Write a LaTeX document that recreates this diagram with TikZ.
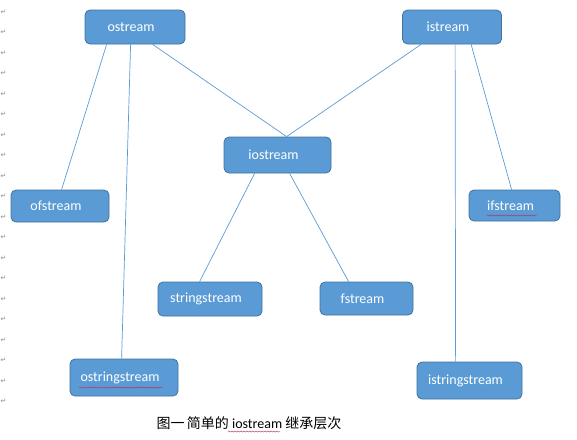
\documentclass[tikz,border=0pt]{standalone}
\usepackage{fontspec}
\setmainfont{Carlito}
\newfontfamily\cjkfont{Noto Sans CJK SC}
\newfontfamily\symfont{DejaVu Sans}
\usetikzlibrary{decorations.pathmorphing,calc}
\definecolor{boxfill}{HTML}{5B9BD5}
\definecolor{boxline}{HTML}{41719C}
\definecolor{linkcol}{HTML}{5B9BD5}
\definecolor{markgrey}{HTML}{8A8A8A}
\definecolor{squig}{HTML}{B5305A}
\newcommand{\boxtxt}[1]{\raisebox{-2pt}{#1\hspace*{8pt}}}
\tikzset{
  cls/.style={draw=boxline, line width=0.8pt, fill=boxfill, rounded corners=5pt,
    text=white, font=\fontsize{14}{16}\selectfont, inner sep=0pt, anchor=center},
  link/.style={draw=linkcol, line width=0.7pt},
  pmark/.style={text=markgrey, font=\symfont\fontsize{7}{8}\selectfont, inner sep=0pt},
  wavy/.style={draw=squig, line width=0.4pt, decorate,
    decoration={snake, amplitude=0.6pt, segment length=3pt}}
}
\begin{document}
\begin{tikzpicture}[x=1pt,y=-1pt]
\useasboundingbox (0,0) rectangle (577,439);
% paragraph marks in the margin
\foreach \i in {0,...,19} {
  \node[pmark] (pm\i) at (3.5,{12+\i*20.5}) {↵};
}
% class boxes
\node[cls, minimum width=100pt, minimum height=34pt] (os)  at (135,27)  {\boxtxt{ostream}};
\node[cls, minimum width=99pt,  minimum height=34pt] (is)  at (452,27)  {\boxtxt{istream}};
\node[cls, minimum width=107pt, minimum height=36pt] (ios) at (277.5,155) {\boxtxt{iostream}};
\node[cls, minimum width=98pt,  minimum height=32pt] (ofs) at (60,206)  {\boxtxt{ofstream}};
\node[cls, minimum width=91pt,  minimum height=31pt] (ifs) at (514.5,205.5) {\boxtxt{ifstream}};
\node[cls, minimum width=104pt, minimum height=34pt] (ss)  at (210,299)  {\boxtxt{stringstream}};
\node[cls, minimum width=93pt,  minimum height=33pt] (fs)  at (366.5,298.5) {\boxtxt{fstream}};
\node[cls, minimum width=108pt, minimum height=37pt] (oss) at (124,377.5) {\boxtxt{ostringstream}};
\node[cls, minimum width=105pt, minimum height=37pt] (iss) at (469.5,380.5) {\boxtxt{istringstream}};
% connectors
\draw[link] ($(os.south west)+(22,0)$)  -- ($(ofs.north west)+(51,0)$);
\draw[link] ($(os.south west)+(46,0)$)  -- ($(oss.north west)+(52,0)$);
\draw[link] ($(os.south west)+(68,0)$)  -- ($(ios.north west)+(63,0)$);
\draw[link] ($(is.south west)+(19,0)$)  -- ($(ios.north west)+(63,0)$);
\draw[link] ($(is.south west)+(53,0)$)  -- ($(iss.north west)+(39,0)$);
\draw[link] ($(is.south west)+(69,0)$)  -- ($(ifs.north west)+(43,0)$);
\draw[link] ($(ios.south west)+(31,0)$) -- ($(ss.north west)+(42,0)$);
\draw[link] ($(ios.south west)+(66,0)$) -- ($(fs.north west)+(29,0)$);
% caption
\node[inner sep=0pt, font=\fontsize{14}{16}\selectfont] (cap) at (249,423)
  {{\cjkfont 图一\,简单的} iostream {\cjkfont 继承层次}};
% spell-check squiggles
\draw[wavy] ($(ifs.center)+(-28,10)$) -- ($(ifs.center)+(22,10)$);
\draw[wavy] ($(oss.center)+(-45,10)$) -- ($(oss.center)+(39,10)$);
\draw[wavy] ($(cap.center)+(-21,8.5)$) -- ($(cap.center)+(31,8.5)$);
\end{tikzpicture}
\end{document}
